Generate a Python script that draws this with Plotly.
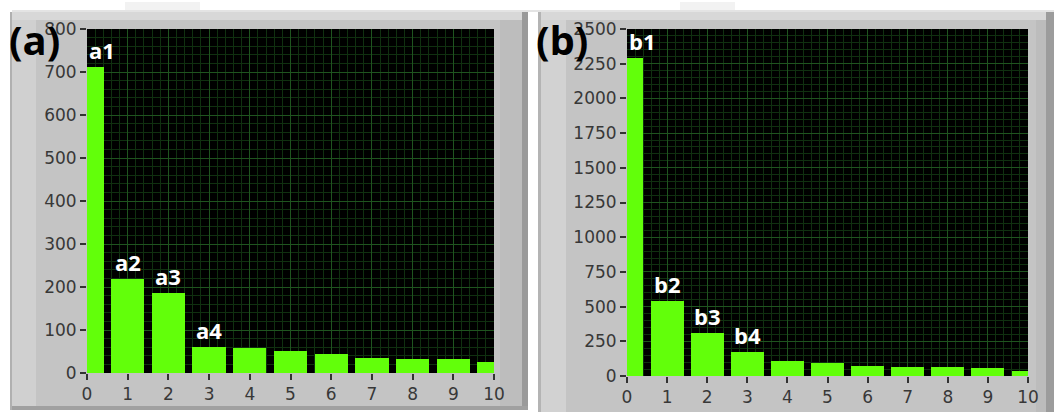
import plotly.graph_objects as go

# ---------------- data ----------------
bins = [0, 1, 2, 3, 4, 5, 6, 7, 8, 9, 10]
counts_a = [712, 218, 187, 61, 59, 52, 45, 36, 32, 32, 25]
counts_b = [2290, 540, 312, 175, 106, 95, 72, 64, 64, 55, 38]
labels_a = ["a1", "a2", "a3", "a4"]
labels_b = ["b1", "b2", "b3", "b4"]
yticks_a = [0, 100, 200, 300, 400, 500, 600, 700, 800]
yticks_b = [0, 250, 500, 750, 1000, 1250, 1500, 1750, 2000, 2250, 2500]
xticks = [0, 1, 2, 3, 4, 5, 6, 7, 8, 9, 10]

# ---------------- layout helpers ----------------
W, H = 1054, 412
def px(x):
    return x / W
def py(y):
    return 1 - y / H

BAR = "#62ff0a"
MAJOR = "#1f541f"
MINOR = "#103010"
TICKFONT = dict(family="DejaVu Sans, Verdana, sans-serif", size=17, color="#383838")

fig = go.Figure()
fig.add_trace(go.Bar(x=bins, y=counts_a, width=0.82, marker=dict(color=BAR, line=dict(width=0)),
                     xaxis="x", yaxis="y", hoverinfo="x+y"))
fig.add_trace(go.Bar(x=bins, y=counts_b, width=0.82, marker=dict(color=BAR, line=dict(width=0)),
                     xaxis="x2", yaxis="y2", hoverinfo="x+y"))

def xaxis(domain, anchor):
    return dict(domain=domain, anchor=anchor, range=[0, 10], tickmode="array", tickvals=xticks,
                ticks="outside", ticklen=6, tickwidth=2, tickcolor="#333333", tickfont=TICKFONT,
                showgrid=True, gridcolor=MAJOR, gridwidth=1, zeroline=False, showline=False,
                minor=dict(dtick=0.2, showgrid=True, gridcolor=MINOR, gridwidth=1, ticks=""),
                fixedrange=True, automargin=False)

def yaxis(domain, anchor, rng, ticks, minor_step):
    return dict(domain=domain, anchor=anchor, range=rng, tickmode="array", tickvals=ticks,
                ticks="outside", ticklen=6, tickwidth=2, tickcolor="#333333", tickfont=TICKFONT,
                showgrid=True, gridcolor=MAJOR, gridwidth=1, zeroline=False, showline=False,
                minor=dict(dtick=minor_step, showgrid=True, gridcolor=MINOR, gridwidth=1, ticks=""),
                fixedrange=True, automargin=False)

ax_a = [px(87), px(494)]
ay_a = [py(373), py(29)]
ax_b = [px(627), px(1028)]
ay_b = [py(376), py(29)]

shapes = []
def rect(x0, y0, x1, y1, color, layer="below"):
    shapes.append(dict(type="rect", xref="paper", yref="paper", x0=px(x0), x1=px(x1),
                       y0=py(y1), y1=py(y0), fillcolor=color, line=dict(width=0), layer=layer))

# panel (a) frame
rect(10, 12, 528, 410, "#c4c4c4")
rect(10, 12, 36, 410, "#d0d0d0")
rect(10, 12, 528, 20, "#d8d8d8")
rect(500, 20, 522, 410, "#bdbdbd")
rect(522, 12, 528, 410, "#9a9a9a")
rect(10, 406, 528, 410, "#a0a0a0")
rect(10, 12, 12, 410, "#b0b0b0")
# panel (b) frame
rect(541, 12, 1054, 412, "#c4c4c4")
rect(541, 12, 566, 412, "#d2d2d2")
rect(541, 12, 1054, 20, "#d8d8d8")
rect(1036, 20, 1046, 412, "#bcbcbc")
rect(1046, 12, 1054, 412, "#9c9c9c")
rect(538, 12, 541, 412, "#b4b4b4")
# top tabs
rect(125, 2, 200, 12, "#f2f2f2")
rect(680, 2, 735, 12, "#f2f2f2")
rect(12, 10, 1054, 12, "#e4e4e4")
# plot areas
rect(87, 29, 494, 373, "#000000")
rect(627, 29, 1028, 376, "#000000")

annotations = []
LBLFONT = dict(family="Open Sans, Liberation Sans, sans-serif", size=22, color="white")
for i, t in enumerate(labels_a):
    annotations.append(dict(x=bins[i], y=counts_a[i], xref="x", yref="y", text="<b>%s</b>" % t,
                            showarrow=False, xanchor="left" if i == 0 else "center",
                            yanchor="bottom", yshift=0, font=LBLFONT))
for i, t in enumerate(labels_b):
    annotations.append(dict(x=bins[i], y=counts_b[i], xref="x2", yref="y2", text="<b>%s</b>" % t,
                            showarrow=False, xanchor="left" if i == 0 else "center",
                            yanchor="bottom", yshift=0, font=LBLFONT))
PFONT = dict(family="Open Sans, Liberation Sans, sans-serif", size=40, color="black")
annotations.append(dict(x=px(7), y=py(40), xref="paper", yref="paper", text="<b>(a)</b>",
                        showarrow=False, xanchor="left", yanchor="middle", font=PFONT))
annotations.append(dict(x=px(534), y=py(40), xref="paper", yref="paper", text="<b>(b)</b>",
                        showarrow=False, xanchor="left", yanchor="middle", font=PFONT))

fig.update_layout(
    width=W, height=H, margin=dict(l=0, r=0, t=0, b=0, autoexpand=False),
    paper_bgcolor="white", plot_bgcolor="black", showlegend=False, bargap=0,
    xaxis=xaxis(ax_a, "y"), yaxis=yaxis(ay_a, "x", [0, 800], yticks_a, 20),
    xaxis2=xaxis(ax_b, "y2"), yaxis2=yaxis(ay_b, "x2", [0, 2500], yticks_b, 50),
    shapes=shapes, annotations=annotations,
)

fig.write_html("out.html", config={"displayModeBar": False},
               post_script="document.body.style.margin='0';document.body.style.overflow='hidden';")
